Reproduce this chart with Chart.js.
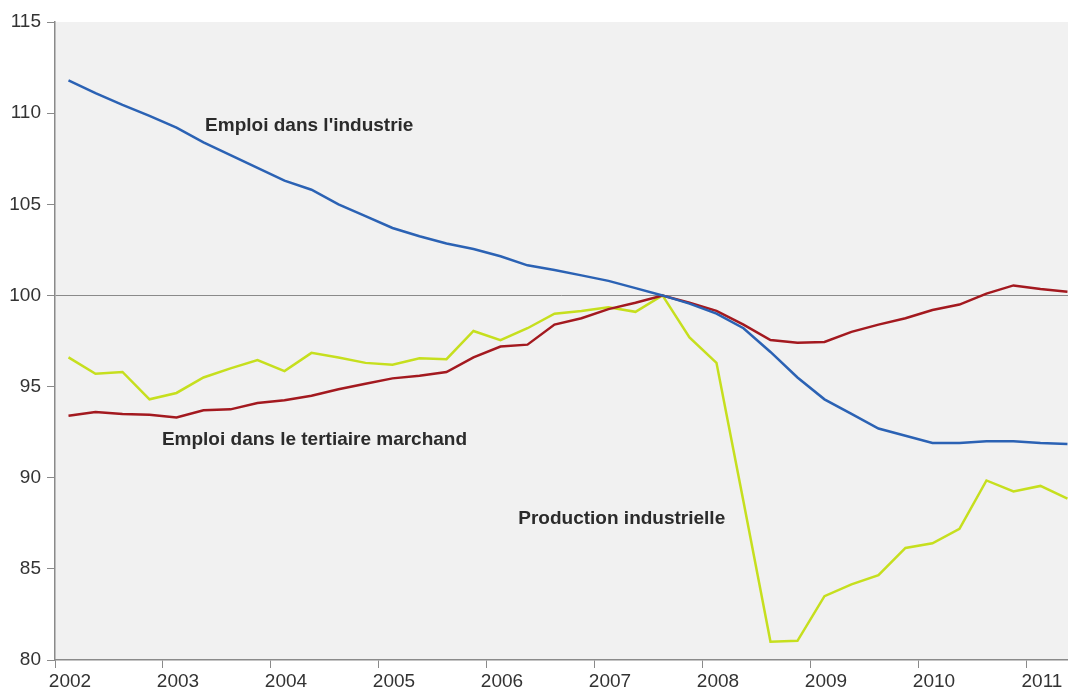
<!DOCTYPE html>
<html>
<head>
<meta charset="utf-8">
<script src="https://cdn.jsdelivr.net/npm/chart.js@4.4.0/dist/chart.umd.min.js"></script>
<style>
  html, body { margin: 0; padding: 0; background: #fff; }
  #wrap { width: 1068px; height: 695px; }
</style>
</head>
<body>
<div id="wrap"><canvas id="chart"></canvas></div>
<script>
// quarters, 2002 T1 -> 2011 T2 (base 100 = 2007 T3)
const quarters = [
  '2002T1','2002T2','2002T3','2002T4','2003T1','2003T2','2003T3','2003T4',
  '2004T1','2004T2','2004T3','2004T4','2005T1','2005T2','2005T3','2005T4',
  '2006T1','2006T2','2006T3','2006T4','2007T1','2007T2','2007T3','2007T4',
  '2008T1','2008T2','2008T3','2008T4','2009T1','2009T2','2009T3','2009T4',
  '2010T1','2010T2','2010T3','2010T4','2011T1','2011T2'
];

const emploiIndustrie = [
  111.8, 111.1, 110.45, 109.85, 109.2, 108.4, 107.7, 107.0,
  106.3, 105.8, 105.0, 104.35, 103.7, 103.25, 102.85, 102.55,
  102.15, 101.65, 101.4, 101.1, 100.8, 100.4, 100.0, 99.55,
  99.0, 98.2, 96.9, 95.5, 94.3, 93.5, 92.7, 92.3,
  91.9, 91.9, 92.0, 92.0, 91.9, 91.85
];

const emploiTertiaire = [
  93.4, 93.6, 93.5, 93.45, 93.3, 93.7, 93.75, 94.1,
  94.25, 94.5, 94.85, 95.15, 95.45, 95.6, 95.8, 96.6,
  97.2, 97.3, 98.4, 98.75, 99.25, 99.6, 100.0, 99.6,
  99.15, 98.4, 97.55, 97.4, 97.45, 98.0, 98.4, 98.75,
  99.2, 99.5, 100.1, 100.55, 100.35, 100.2
];

const productionIndustrielle = [
  96.6, 95.7, 95.8, 94.3, 94.65, 95.5, 96.0, 96.45,
  95.85, 96.85, 96.6, 96.3, 96.2, 96.55, 96.5, 98.05,
  97.55, 98.2, 99.0, 99.15, 99.35, 99.1, 100.0, 97.7,
  96.3, 88.7, 81.0, 81.05, 83.5, 84.15, 84.65, 86.15,
  86.4, 87.2, 89.85, 89.25, 89.55, 88.85
];

const yTicks = [80, 85, 90, 95, 100, 105, 110, 115];
const yearTicks = [2002, 2003, 2004, 2005, 2006, 2007, 2008, 2009, 2010, 2011];

// labels placed on the plot, in data units
const notes = [
  { text: "Emploi dans l'industrie", x: 2003.39, y: 109.3 },
  { text: 'Emploi dans le tertiaire marchand', x: 2002.99, y: 92.1 },
  { text: 'Production industrielle', x: 2006.29, y: 87.75 }
];

// quarter string -> decimal year at mid-quarter
function quarterX(q) {
  const year = parseInt(q.slice(0, 4));
  const t = parseInt(q.slice(5));
  return year + (t - 0.5) / 4;
}

function points(values) {
  return values.map((v, i) => ({ x: quarterX(quarters[i]), y: v }));
}

const axisFont = { family: "'Liberation Sans', 'DejaVu Sans', sans-serif", size: 19 };
const axisColor = '#8a8a8a';

const plotBackground = {
  id: 'plotBackground',
  beforeDraw(chart) {
    const { ctx, chartArea } = chart;
    ctx.save();
    ctx.fillStyle = '#f1f1f1';
    ctx.fillRect(chartArea.left, chartArea.top, chartArea.right - chartArea.left, chartArea.bottom - chartArea.top);
    ctx.restore();
  }
};

const lineNotes = {
  id: 'lineNotes',
  afterDatasetsDraw(chart) {
    const { ctx, scales } = chart;
    ctx.save();
    ctx.font = "bold 19px 'Liberation Sans', 'DejaVu Sans', sans-serif";
    ctx.fillStyle = '#2b2b2b';
    ctx.textAlign = 'left';
    ctx.textBaseline = 'middle';
    notes.forEach(n => {
      ctx.fillText(n.text, scales.x.getPixelForValue(n.x), scales.y.getPixelForValue(n.y));
    });
    ctx.restore();
  }
};

const ctx = document.getElementById('chart').getContext('2d');
const chart = new Chart(ctx, {
  type: 'line',
  data: {
    datasets: [
      {
        label: "Emploi dans l'industrie",
        data: points(emploiIndustrie),
        borderColor: '#2b62b4',
        borderWidth: 2.5
      },
      {
        label: 'Emploi dans le tertiaire marchand',
        data: points(emploiTertiaire),
        borderColor: '#a3191f',
        borderWidth: 2.5
      },
      {
        label: 'Production industrielle',
        data: points(productionIndustrielle),
        borderColor: '#c6df1e',
        borderWidth: 2.5
      }
    ]
  },
  options: {
    responsive: true,
    maintainAspectRatio: false,
    animation: false,
    elements: { point: { radius: 0 }, line: { tension: 0 } },
    layout: { padding: { top: 22, right: 0, left: 0, bottom: 0 } },
    plugins: {
      legend: { display: false },
      tooltip: { enabled: false }
    },
    scales: {
      x: {
        type: 'linear',
        min: 2002,
        max: 2011.38,
        afterFit(scale) { scale.height = 35; },
        afterBuildTicks(scale) { scale.ticks = yearTicks.map(v => ({ value: v })); },
        border: { color: axisColor, width: 1.5 },
        grid: { drawOnChartArea: false, drawTicks: true, tickLength: 8, tickColor: axisColor },
        ticks: {
          font: axisFont,
          color: '#333',
          padding: 2,
          labelOffset: 15,
          maxRotation: 0,
          autoSkip: false,
          callback: v => String(v)
        }
      },
      y: {
        min: 80,
        max: 115,
        afterFit(scale) { scale.width = 55; },
        afterBuildTicks(scale) { scale.ticks = yTicks.map(v => ({ value: v })); },
        border: { color: axisColor, width: 1.5 },
        grid: {
          color: c => (c.tick && c.tick.value === 100 ? '#8a8a8a' : 'rgba(0,0,0,0)'),
          lineWidth: 1,
          tickLength: 8,
          tickColor: axisColor
        },
        ticks: {
          font: axisFont,
          color: '#333',
          padding: 6,
          callback: v => String(v)
        }
      }
    }
  },
  plugins: [plotBackground, lineNotes]
});
</script>
</body>
</html>
